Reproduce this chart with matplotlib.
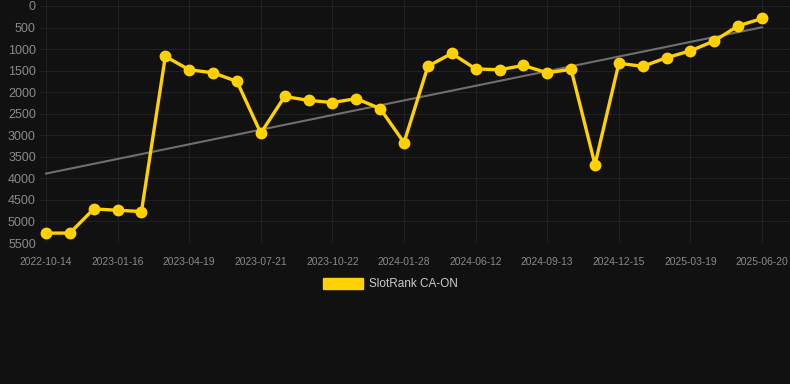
import numpy as np
import matplotlib.pyplot as plt
from matplotlib.patches import Patch

plt.rcParams['font.family'] = ['Liberation Sans', 'DejaVu Sans']

# dates (every third one is labelled on the axis)
dates = ['2022-10-14', '2022-11-14', '2022-12-15', '2023-01-16', '2023-02-16',
         '2023-03-19', '2023-04-19', '2023-05-20', '2023-06-20', '2023-07-21',
         '2023-08-21', '2023-09-21', '2023-10-22', '2023-11-22', '2023-12-25',
         '2024-01-28', '2024-03-14', '2024-04-28', '2024-06-12', '2024-07-13',
         '2024-08-13', '2024-09-13', '2024-10-14', '2024-11-14', '2024-12-15',
         '2025-01-15', '2025-02-16', '2025-03-19', '2025-04-19', '2025-05-20',
         '2025-06-20']
ranks = [5270, 5270, 4710, 4740, 4770, 1170, 1480, 1550, 1750, 2950,
         2100, 2190, 2240, 2150, 2380, 3170, 1400, 1100, 1460, 1480,
         1380, 1550, 1470, 3680, 1330, 1400, 1200, 1040, 810, 460,
         290]
series_name = 'SlotRank CA-ON'
yticks = [0, 500, 1000, 1500, 2000, 2500, 3000, 3500, 4000, 4500, 5000, 5500]

bg = '#111111'
gold = '#FFD100'

x = np.arange(len(dates))
fig = plt.figure(figsize=(7.9, 3.84), dpi=100, facecolor=bg)
ax = fig.add_axes([40 / 790, (384 - 243) / 384, 750 / 790, 243 / 384])
ax.set_facecolor(bg)

# trend line
slope, intercept = np.polyfit(x, ranks, 1)
ax.plot(x, slope * x + intercept, color='#6f6f6f', lw=1.5, zorder=2)

ax.plot(x, ranks, color=gold, lw=2.4, marker='o', ms=7.5, zorder=3)

ax.set_xlim(-0.25, 31.17)
ax.set_ylim(5500, -139)
ax.set_yticks(yticks)
ax.set_xticks(x[::3])
ax.set_xticklabels(dates[::3])

ax.grid(True, color='#212121', lw=0.8)
ax.set_axisbelow(True)
for s in ax.spines.values():
    s.set_visible(False)
ax.tick_params(axis='both', length=0, colors='#8a8a8a')
ax.tick_params(axis='x', labelsize=7.4, pad=10)
ax.tick_params(axis='y', labelsize=9, pad=3)

fig.legend(handles=[Patch(facecolor=gold, edgecolor=gold, label=series_name)],
           loc='center', bbox_to_anchor=(390 / 790, 1 - 284 / 384),
           frameon=False, fontsize=8.5, labelcolor='#cccccc',
           handlelength=3.4, handleheight=1.1, handletextpad=0.5)

fig.savefig('out.png', dpi=100, facecolor=bg)
